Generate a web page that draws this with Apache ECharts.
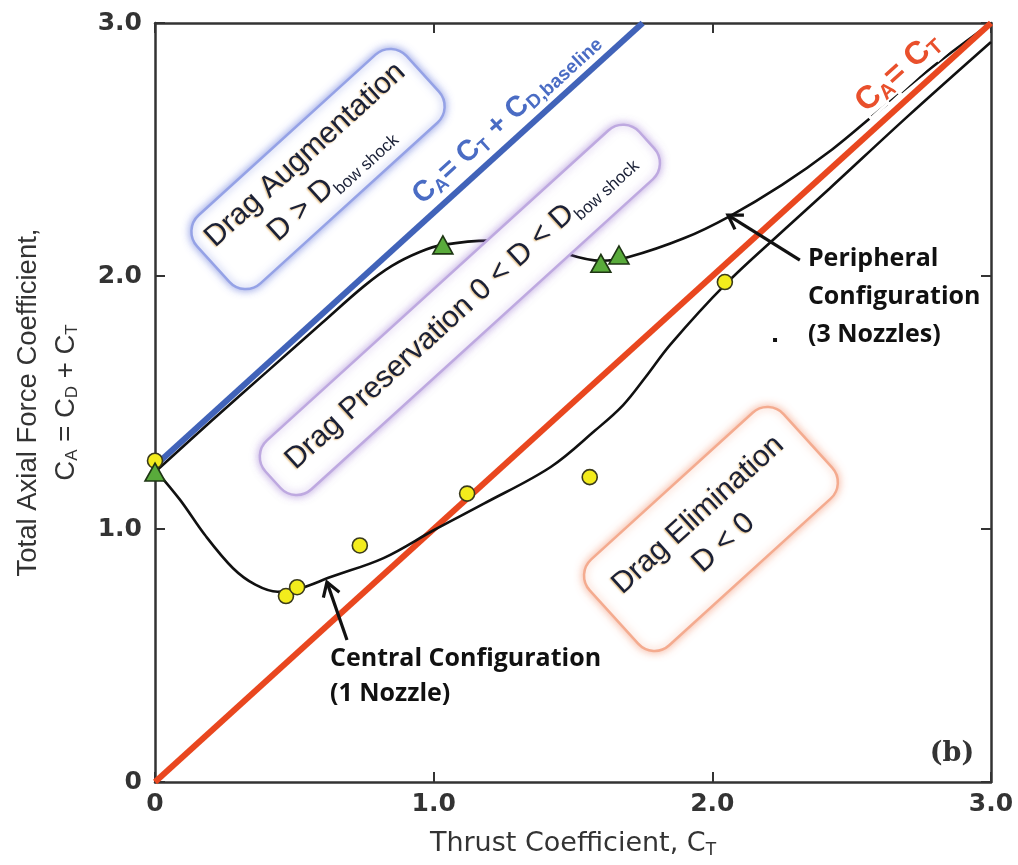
<!DOCTYPE html>
<html>
<head>
<meta charset="utf-8">
<script src="https://cdn.jsdelivr.net/npm/echarts@6/dist/echarts.min.js"></script>
<style>
  html, body { margin: 0; padding: 0; background: #ffffff; }
  #chart { width: 1018px; height: 865px; }
</style>
</head>
<body>
<div id="chart"></div>
<script>
// ---- data ----
const axisTicks = [0, 1, 2, 3];
const tickLabels = ['0', '1.0', '2.0', '3.0'];

// measured points: central configuration (1 nozzle)
const centralPoints = [
  [0, 1.27], [0.47, 0.735], [0.51, 0.77], [0.735, 0.935],
  [1.12, 1.14], [1.56, 1.205], [2.045, 1.976]
];
// measured points: peripheral configuration (3 nozzles)
const peripheralPoints = [
  [0, 1.225], [1.033, 2.123], [1.60, 2.05], [1.665, 2.083]
];
// fitted curve through the central-configuration results
const centralFit = [
  [0, 1.235], [0.09, 1.115], [0.18, 0.975], [0.28, 0.845], [0.36, 0.78],
  [0.44, 0.752], [0.52, 0.765], [0.63, 0.81], [0.82, 0.885], [1.0, 0.995],
  [1.18, 1.10], [1.42, 1.245], [1.58, 1.39], [1.68, 1.49], [1.76, 1.60],
  [1.85, 1.73], [2.045, 1.965], [2.25, 2.175], [2.42, 2.345], [2.7, 2.63],
  [3.0, 2.925]
];
// fitted curve through the peripheral-configuration results
const peripheralFit = [
  [0, 1.225], [0.2, 1.425], [0.4, 1.62], [0.6, 1.815], [0.75, 1.96],
  [0.85, 2.04], [0.95, 2.095], [1.033, 2.123], [1.2, 2.14], [1.4, 2.11],
  [1.6, 2.06], [1.7, 2.075], [1.9, 2.15], [2.06, 2.235], [2.25, 2.36],
  [2.43, 2.50], [2.6, 2.655], [2.8, 2.835], [3.0, 3.0]
];
// C_A = C_T
const thrustOnlyLine = [[0, 0], [3, 3]];
// C_A = C_T + C_D,baseline
const baselineLine = [[0, 1.25], [1.75, 3.0]];

// ---- annotation layout (data coordinates) ----
const regionBoxes = [
  { at: [0.585, 2.423], w: 283, h: 92, edge: '#95a2e6', glow: 'rgba(80,100,215,0.6)',
    text: '{m|Drag Augmentation}\n{m|D > D}{s|bow shock}' },
  { at: [1.094, 1.866], w: 505, h: 66, edge: '#bea9e0', glow: 'rgba(145,105,205,0.55)',
    text: '{m|Drag Preservation 0 < D < D}{s|bow shock}' },
  { at: [1.995, 1.0], w: 262, h: 116, edge: '#f4ab8f', glow: 'rgba(240,125,85,0.55)',
    text: '{m|Drag Elimination}\n{m|D < 0}' }
];
const lineLabels = [
  { at: [1.26, 2.625], color: '#4a6cc4', main: 29, sub: 19,
    text: '{m|C}{s|A}{m|= C}{s|T}{m| + C}{s|D,baseline}' },
  { at: [2.666, 2.805], color: '#e9502c', main: 32, sub: 21,
    text: '{m|C}{s|A}{m|= C}{s|T}' }
];
const arrows = [
  { tail: [0.689, 0.561], tip: [0.617, 0.79] },
  { tail: [2.314, 2.063], tip: [2.056, 2.241] }
];
const notes = [
  { at: [0.628, 0.419], text: 'Central Configuration\n(1 Nozzle)', lh: 35 },
  { at: [2.343, 1.917], text: 'Peripheral\nConfiguration\n(3 Nozzles)', lh: 38 }
];
const panelTag = { at: [2.86, 0.11], text: '(b)' };
const strayDot = [2.225, 1.747];

// ---- chart ----
const SANS = "'Liberation Sans', Arial, sans-serif";
const WIDE = "'DejaVu Sans', Verdana, sans-serif";
const INK = '#333333';

const chart = echarts.init(document.getElementById('chart'));

const tickFmt = v => tickLabels[axisTicks.indexOf(v)] || '';
const frameAxis = (pos, labels, margin) => ({
  type: 'value', min: 0, max: 3, interval: 1, position: pos,
  axisLine: { show: true, onZero: false, lineStyle: { color: INK, width: 2.5 } },
  axisTick: { show: true, inside: true, length: 10, lineStyle: { color: INK, width: 2 } },
  splitLine: { show: false },
  axisLabel: labels ? {
    show: true, formatter: tickFmt, color: INK, fontFamily: WIDE,
    fontSize: 25, fontWeight: 'bold', margin: margin
  } : { show: false }
});

const xMain = Object.assign(frameAxis('bottom', true, 10), {
  name: '{n|Thrust Coefficient, C}{s|T}',
  nameLocation: 'middle', nameGap: 47,
  nameTextStyle: {
    rich: {
      n: { fontFamily: WIDE, fontSize: 27, color: INK, lineHeight: 30 },
      s: { fontFamily: WIDE, fontSize: 17, color: INK, lineHeight: 16, verticalAlign: 'bottom' }
    }
  }
});
const yMain = Object.assign(frameAxis('left', true, 13), {
  name: '{a|Total Axial Force Coefficient,}\n{n|C}{s|A}{n| = C}{s|D}{n| + C}{s|T}',
  nameLocation: 'middle', nameGap: 74, nameRotate: 90,
  nameTextStyle: {
    rich: {
      a: { fontFamily: SANS, fontSize: 27.5, color: INK, lineHeight: 46 },
      n: { fontFamily: SANS, fontSize: 27.5, color: INK, lineHeight: 30 },
      s: { fontFamily: SANS, fontSize: 17, color: INK, lineHeight: 16, verticalAlign: 'bottom' }
    }
  }
});

chart.setOption({
  animation: false,
  backgroundColor: '#ffffff',
  grid: { left: 155, right: 27, top: 23, bottom: 83, containLabel: false },
  xAxis: [xMain, frameAxis('top', false)],
  yAxis: [yMain, frameAxis('right', false)],
  series: [
    { name: 'peripheral fit', type: 'line', data: peripheralFit, smooth: 0.35,
      showSymbol: false, z: 2, lineStyle: { color: '#111', width: 2.6 } },
    { name: 'C_A = C_T', type: 'line', data: thrustOnlyLine, showSymbol: false, z: 3,
      lineStyle: { color: '#e9471f', width: 6 } },
    { name: 'C_A = C_T + C_D,baseline', type: 'line', data: baselineLine, showSymbol: false, z: 3,
      lineStyle: { color: '#4163b9', width: 6 } },
    { name: 'central fit', type: 'line', data: centralFit, smooth: 0.35,
      showSymbol: false, z: 4, lineStyle: { color: '#111', width: 2.6 } },
    { name: 'Central Configuration (1 Nozzle)', type: 'scatter', data: centralPoints, z: 5,
      symbol: 'circle', symbolSize: 15,
      itemStyle: { color: '#f3ec1c', borderColor: '#3a3a1c', borderWidth: 1.6, opacity: 1 } },
    { name: 'Peripheral Configuration (3 Nozzles)', type: 'scatter', data: peripheralPoints, z: 6,
      symbol: 'triangle', symbolSize: [20, 18],
      itemStyle: { color: '#59ab3b', borderColor: '#1e3514', borderWidth: 1.6, opacity: 1 } }
  ]
});

// ---- overlays: region boxes, line labels, arrows, notes ----
function px(p) { return chart.convertToPixel({ gridIndex: 0 }, p); }

function buildOverlays() {
  const o = px([0, 0]), t = px([3, 3]);
  const ang = Math.atan2(o[1] - t[1], t[0] - o[0]);
  const g = [];

  regionBoxes.forEach(b => {
    const c = px(b.at);
    g.push({
      type: 'rect', x: c[0], y: c[1], rotation: ang, z: 20,
      shape: { x: -b.w / 2, y: -b.h / 2, width: b.w, height: b.h, r: 22 },
      style: { fill: '#ffffff', stroke: b.edge, lineWidth: 2.5, shadowBlur: 8, shadowColor: b.glow }
    });
    g.push({
      type: 'text', x: c[0], y: c[1], rotation: ang, z: 21,
      style: {
        text: b.text, align: 'center', verticalAlign: 'middle',
        rich: {
          m: { fontFamily: SANS, fontSize: 30, lineHeight: 38, fill: '#1a2036',
               textShadowColor: 'rgba(215,150,50,0.55)', textShadowBlur: 1.5,
               textShadowOffsetX: -1, textShadowOffsetY: 1 },
          s: { fontFamily: SANS, fontSize: 17, lineHeight: 20, fill: '#1a2036', verticalAlign: 'bottom' }
        }
      }
    });
  });

  lineLabels.forEach(l => {
    const c = px(l.at);
    g.push({
      type: 'text', x: c[0], y: c[1], rotation: ang, z: 15,
      style: {
        text: l.text, align: 'center', verticalAlign: 'middle',
        rich: {
          m: { fontFamily: SANS, fontWeight: 'bold', fontSize: l.main, lineHeight: l.main + 4,
               fill: l.color, textBorderColor: '#fff', textBorderWidth: 3 },
          s: { fontFamily: SANS, fontWeight: 'bold', fontSize: l.sub, lineHeight: l.sub - 2,
               fill: l.color, verticalAlign: 'bottom', textBorderColor: '#fff', textBorderWidth: 3 }
        }
      }
    });
  });

  arrows.forEach(a => {
    const p0 = px(a.tail), p1 = px(a.tip);
    const dx = p1[0] - p0[0], dy = p1[1] - p0[1];
    const len = Math.hypot(dx, dy);
    const ux = dx / len, uy = dy / len;
    const L = 16, th = 32 * Math.PI / 180;
    const wing = s => [
      p1[0] - L * (ux * Math.cos(th) - s * uy * Math.sin(th)),
      p1[1] - L * (uy * Math.cos(th) + s * ux * Math.sin(th))
    ];
    g.push({ type: 'polyline', z: 25, shape: { points: [p0, p1] },
             style: { stroke: '#111', lineWidth: 3.2, fill: null } });
    g.push({ type: 'polyline', z: 25, shape: { points: [wing(1), p1, wing(-1)] },
             style: { stroke: '#111', lineWidth: 3.2, fill: null, lineJoin: 'miter' } });
  });

  notes.forEach(n => {
    const c = px(n.at);
    g.push({
      type: 'text', x: c[0], y: c[1], z: 25,
      style: { text: n.text, align: 'left', verticalAlign: 'middle', fill: '#111',
               font: "bold 25px 'Open Sans', 'Noto Sans', sans-serif", lineHeight: n.lh }
    });
  });

  const tg = px(panelTag.at);
  g.push({
    type: 'text', x: tg[0], y: tg[1], z: 25,
    style: { text: panelTag.text, align: 'center', verticalAlign: 'middle', fill: INK,
             font: "bold 27px 'DejaVu Serif', 'Liberation Serif', serif" }
  });

  const sd = px(strayDot);
  g.push({ type: 'rect', x: sd[0] - 2, y: sd[1] - 2, z: 25,
           shape: { width: 4, height: 4 }, style: { fill: '#111' } });

  chart.setOption({ graphic: g });
}

buildOverlays();
</script>
</body>
</html>
